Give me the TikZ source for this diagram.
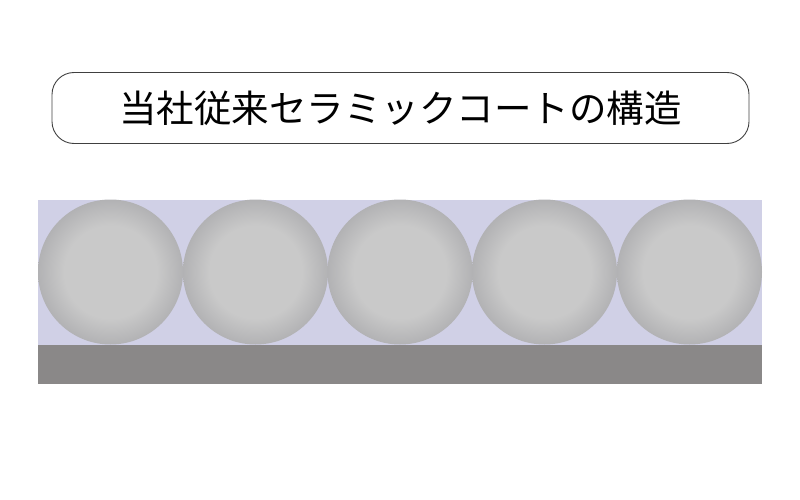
\documentclass[tikz,border=0pt]{standalone}
\usepackage{fontspec}
\newfontfamily\cjk{Noto Sans CJK JP}
\usepackage{tikz}
\definecolor{coatbg}{RGB}{208,208,230}
\definecolor{ballin}{RGB}{201,201,201}
\definecolor{ballout}{RGB}{178,178,180}
\definecolor{basegray}{RGB}{138,136,136}
\pgfdeclareradialshading{ball}{\pgfpointorigin}{color(0bp)=(ballin); color(16bp)=(ballin); color(25bp)=(ballout); color(50bp)=(ballout)}

\begin{document}
\begin{tikzpicture}[x=1pt,y=-1pt]
	%% frame
	\useasboundingbox (0,0) rectangle (800,500);
	%% title
	\node[draw=black!75, line width=0.9pt, rounded corners=22pt, minimum width=697pt, minimum height=71pt, inner sep=0pt] (title) at (400.5,108) {\cjk\fontsize{37.5}{37.5}\selectfont 当社従来セラミックコートの構造};
	%% coat layer and base
	\fill[coatbg] (38,200) rectangle (762,345);
	\fill[basegray] (38,344.5) rectangle (762,384);
	%% ceramic balls
	\foreach \cx in {110.5,255.5,400,544.5,689.5}
		\shade[shading=ball] (\cx,272) circle[radius=72.5];
\end{tikzpicture}
\end{document}
